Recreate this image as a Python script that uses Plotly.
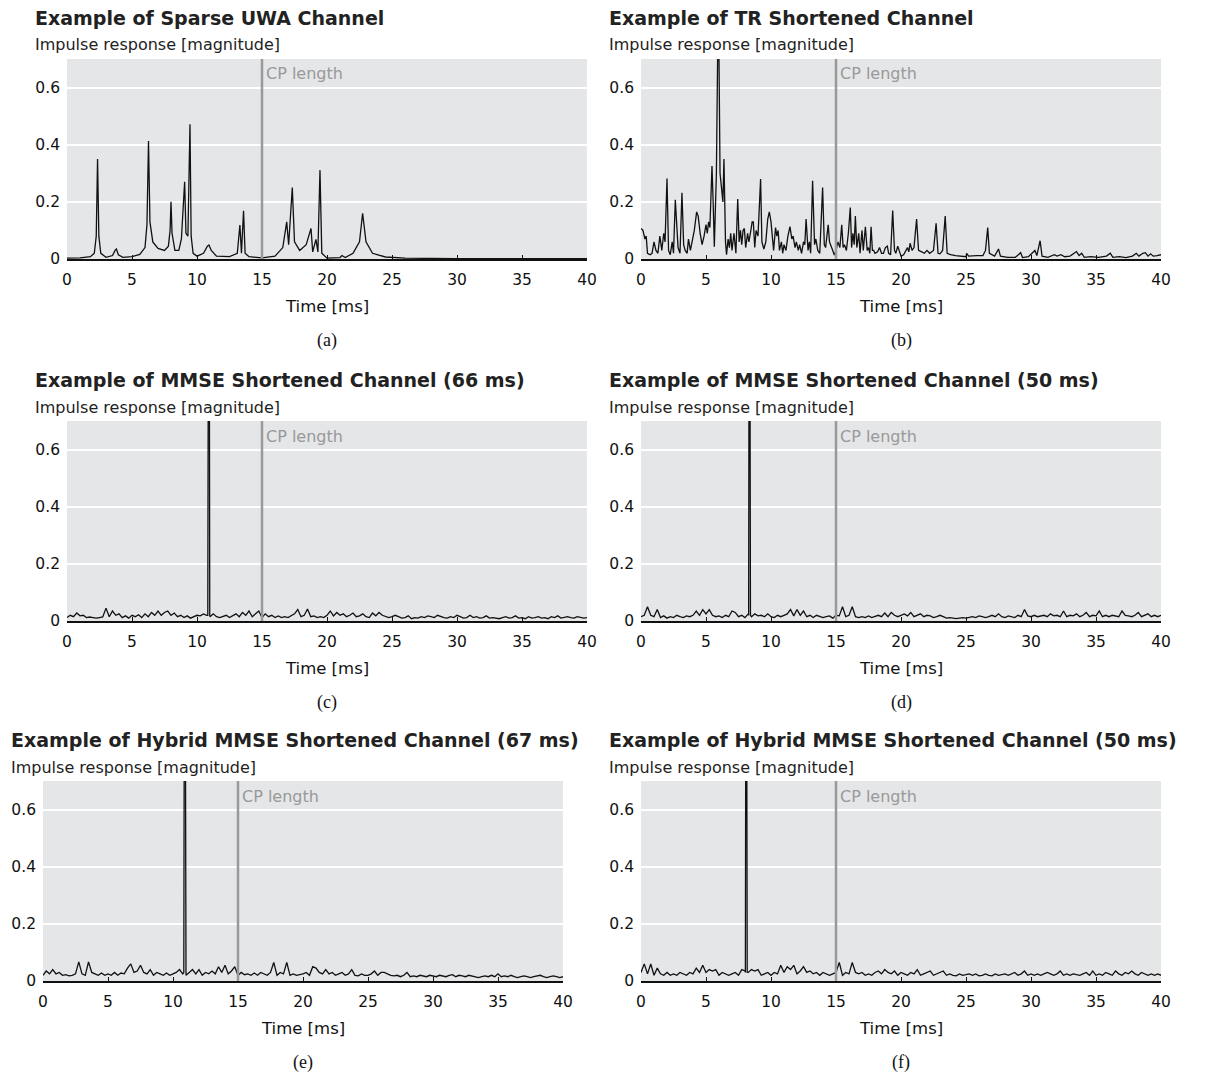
import plotly.graph_objects as go

# page is 1205x1076; the html body adds an 8px margin on every side
OFF = 8
W, H = 1205 - 2 * OFF, 1076 - 2 * OFF + 6

# ---------------- data ----------------
titles = ["Example of Sparse UWA Channel", "Example of TR Shortened Channel",
          "Example of MMSE Shortened Channel (66 ms)", "Example of MMSE Shortened Channel (50 ms)",
          "Example of Hybrid MMSE Shortened Channel (67 ms)", "Example of Hybrid MMSE Shortened Channel (50 ms)"]
captions = ["(a)", "(b)", "(c)", "(d)", "(e)", "(f)"]
x_ticks = [0, 5, 10, 15, 20, 25, 30, 35, 40]
y_ticks = [0, 0.2, 0.4, 0.6]
y_ticktext = ["0", "0.2", "0.4", "0.6"]
cp_length = 15

a_t = [0, 1.0, 1.8, 2.1, 2.25, 2.35, 2.45, 2.6, 3.0, 3.5, 3.7, 3.8, 3.95, 4.3, 5.0, 5.6, 6.0, 6.15, 6.27, 6.38,
       6.6, 7.0, 7.5, 7.8, 7.93, 8.0, 8.08, 8.3, 8.6, 8.8, 9.05, 9.15, 9.3, 9.46, 9.55, 9.7, 10.0, 10.5, 10.8, 10.92,
       11.1, 11.5, 12.5, 13.1, 13.3, 13.42, 13.58, 13.7, 14.0, 15.0, 16.0, 16.6, 16.9, 17.05, 17.33, 17.5, 17.9, 18.4, 18.77, 18.9,
       19.15, 19.3, 19.46, 19.6, 20.0, 21.0, 21.15, 21.4, 22.0, 22.5, 22.74, 23.0, 23.5, 24.5, 26, 30, 40]
a_v = [0.003, 0.004, 0.008, 0.02, 0.08, 0.35, 0.08, 0.02, 0.006, 0.012, 0.03, 0.035, 0.015, 0.006, 0.008, 0.016, 0.04, 0.12, 0.413, 0.13,
       0.06, 0.037, 0.03, 0.045, 0.1, 0.2, 0.09, 0.03, 0.03, 0.07, 0.27, 0.09, 0.08, 0.472, 0.08, 0.02, 0.01, 0.02, 0.045, 0.049,
       0.03, 0.01, 0.008, 0.02, 0.119, 0.02, 0.169, 0.02, 0.008, 0.004, 0.01, 0.04, 0.13, 0.05, 0.25, 0.06, 0.03, 0.05, 0.107, 0.025,
       0.069, 0.025, 0.311, 0.02, 0.003, 0.005, 0.012, 0.005, 0.02, 0.06, 0.16, 0.06, 0.02, 0.007, 0.003, 0.001, 0.001]

b_t = [0.0, 0.15, 0.3, 0.4, 0.5, 0.7, 0.85, 1.0, 1.15, 1.3, 1.45, 1.6, 1.75, 1.85, 2.0, 2.12, 2.25, 2.4, 2.5, 2.64,
       2.75, 2.85, 3.0, 3.15, 3.28, 3.4, 3.55, 3.65, 3.8, 3.95, 4.1, 4.28, 4.4, 4.55, 4.7, 4.85, 5.0, 5.1, 5.2, 5.3,
       5.46, 5.55, 5.64, 5.8, 5.95, 6.08, 6.2, 6.3, 6.38, 6.5, 6.58, 6.7, 6.8, 6.9, 7.0, 7.15, 7.3, 7.44, 7.55, 7.65,
       7.75, 7.85, 7.95, 8.05, 8.2, 8.3, 8.45, 8.55, 8.64, 8.75, 8.85, 9.0, 9.2, 9.3, 9.45, 9.6, 9.75, 9.87, 10.0, 10.1,
       10.2, 10.35, 10.45, 10.55, 10.65, 10.8, 10.9, 11.0, 11.15, 11.3, 11.46, 11.6, 11.7, 11.85, 11.95, 12.1, 12.2, 12.35, 12.5, 12.6,
       12.7, 12.85, 12.95, 13.05, 13.2, 13.35, 13.45, 13.6, 13.75, 13.97, 14.1, 14.2, 14.4, 14.5, 14.6, 14.75, 14.87, 15.0, 15.15, 15.3,
       15.44, 15.55, 15.65, 15.8, 15.95, 16.1, 16.2, 16.3, 16.4, 16.49, 16.6, 16.75, 16.85, 17.0, 17.1, 17.26, 17.4, 17.5, 17.6, 17.7,
       17.8, 17.9, 18.0, 18.2, 18.35, 18.5, 18.65, 18.8, 18.95, 19.05, 19.2, 19.36, 19.5, 19.6, 19.75, 19.9, 20.0, 20.2, 20.35, 20.5,
       20.6, 20.7, 20.85, 21.0, 21.2, 21.35, 21.6, 21.8, 22.0, 22.2, 22.5, 22.7, 22.85, 23.0, 23.2, 23.4, 23.55, 23.8, 24.2, 24.6,
       25.0, 25.05, 25.2, 25.8, 26.3, 26.5, 26.67, 26.8, 27.2, 27.5, 27.65, 28.2, 28.8, 29.2, 29.35, 29.8, 30.1, 30.3, 30.45, 30.7,
       30.85, 31.3, 31.8, 32.0, 32.3, 32.6, 33.0, 33.5, 33.7, 33.9, 34.1, 34.6, 35.2, 35.8, 36.1, 36.3, 36.8, 37.3, 37.8, 38.1,
       38.3, 38.6, 38.8, 39.0, 39.2, 39.4, 39.7, 40.0]
b_v = [0.107, 0.1, 0.07, 0.08, 0.02, 0.015, 0.02, 0.06, 0.03, 0.02, 0.08, 0.03, 0.09, 0.06, 0.282, 0.03, 0.015, 0.06, 0.02, 0.207,
       0.12, 0.04, 0.02, 0.232, 0.05, 0.03, 0.02, 0.07, 0.03, 0.06, 0.1, 0.165, 0.15, 0.09, 0.05, 0.08, 0.12, 0.09, 0.13, 0.11,
       0.325, 0.2, 0.043, 0.3, 0.95, 0.3, 0.25, 0.2, 0.35, 0.06, 0.015, 0.07, 0.04, 0.09, 0.03, 0.09, 0.02, 0.21, 0.06, 0.1,
       0.05, 0.1, 0.107, 0.04, 0.09, 0.06, 0.1, 0.13, 0.13, 0.04, 0.1, 0.08, 0.28, 0.06, 0.035, 0.06, 0.14, 0.165, 0.13, 0.08,
       0.03, 0.11, 0.08, 0.1, 0.03, 0.06, 0.02, 0.05, 0.03, 0.08, 0.113, 0.07, 0.08, 0.04, 0.06, 0.03, 0.05, 0.02, 0.06, 0.05,
       0.14, 0.03, 0.06, 0.02, 0.274, 0.05, 0.07, 0.03, 0.02, 0.25, 0.05, 0.04, 0.12, 0.06, 0.05, 0.03, 0.014, 0.03, 0.06, 0.04,
       0.12, 0.04, 0.05, 0.03, 0.09, 0.18, 0.04, 0.09, 0.05, 0.15, 0.04, 0.09, 0.02, 0.1, 0.03, 0.113, 0.03, 0.04, 0.02, 0.113,
       0.03, 0.03, 0.02, 0.025, 0.04, 0.02, 0.02, 0.04, 0.045, 0.02, 0.015, 0.17, 0.03, 0.02, 0.045, 0.02, 0.01, 0.015, 0.03, 0.04,
       0.025, 0.055, 0.03, 0.04, 0.14, 0.03, 0.025, 0.02, 0.03, 0.02, 0.03, 0.125, 0.02, 0.018, 0.03, 0.15, 0.02, 0.015, 0.012, 0.01,
       0.008, 0.02, 0.01, 0.012, 0.012, 0.03, 0.11, 0.02, 0.01, 0.035, 0.01, 0.006, 0.006, 0.022, 0.005, 0.008, 0.02, 0.03, 0.012, 0.064,
       0.01, 0.006, 0.015, 0.01, 0.015, 0.008, 0.01, 0.026, 0.012, 0.02, 0.006, 0.008, 0.006, 0.01, 0.02, 0.006, 0.008, 0.005, 0.01, 0.02,
       0.01, 0.02, 0.022, 0.01, 0.018, 0.01, 0.012, 0.015]

# noise floors sampled every 0.25 ms from 0 to 40 ms
c_noise = [0.012, 0.02, 0.015, 0.028, 0.018, 0.02, 0.012, 0.014, 0.012, 0.01, 0.012, 0.014, 0.045, 0.015, 0.035, 0.02, 0.025, 0.012, 0.018, 0.01,
           0.02, 0.015, 0.022, 0.012, 0.025, 0.015, 0.03, 0.02, 0.035, 0.02, 0.03, 0.035, 0.02, 0.028, 0.015, 0.02, 0.012, 0.018, 0.01, 0.015,
           0.02, 0.018, 0.025, 0.02, 0.015, 0.025, 0.015, 0.012, 0.015, 0.02, 0.012, 0.018, 0.025, 0.015, 0.03, 0.02, 0.035, 0.015, 0.025, 0.035,
           0.012, 0.025, 0.015, 0.02, 0.012, 0.018, 0.012, 0.015, 0.012, 0.02, 0.025, 0.04, 0.015, 0.02, 0.042, 0.015, 0.018, 0.012, 0.015, 0.012,
           0.02, 0.035, 0.018, 0.03, 0.02, 0.025, 0.015, 0.02, 0.028, 0.015, 0.018, 0.025, 0.015, 0.012, 0.028, 0.018, 0.03, 0.02, 0.015, 0.012,
           0.015, 0.02, 0.015, 0.01, 0.012, 0.018, 0.008, 0.012, 0.01, 0.015, 0.012, 0.018, 0.015, 0.012, 0.02, 0.015, 0.012, 0.01, 0.015, 0.012,
           0.02, 0.015, 0.01, 0.012, 0.02, 0.012, 0.015, 0.01, 0.012, 0.018, 0.01, 0.012, 0.01, 0.008, 0.012, 0.015, 0.01, 0.012, 0.018, 0.01,
           0.012, 0.008, 0.015, 0.01, 0.012, 0.015, 0.01, 0.012, 0.008, 0.015, 0.012, 0.018, 0.01, 0.012, 0.015, 0.012, 0.01, 0.015, 0.012, 0.01,
           0.012]
d_noise = [0.015, 0.02, 0.05, 0.02, 0.015, 0.04, 0.012, 0.018, 0.01, 0.015, 0.012, 0.02, 0.015, 0.012, 0.018, 0.015, 0.02, 0.035, 0.02, 0.04,
           0.025, 0.04, 0.02, 0.015, 0.018, 0.012, 0.02, 0.015, 0.035, 0.03, 0.015, 0.02, 0.012, 0.025, 0.015, 0.025, 0.018, 0.02, 0.015, 0.025,
           0.015, 0.012, 0.02, 0.015, 0.02, 0.025, 0.04, 0.018, 0.04, 0.02, 0.035, 0.015, 0.02, 0.012, 0.02, 0.015, 0.012, 0.015, 0.018, 0.01,
           0.02, 0.018, 0.05, 0.015, 0.02, 0.05, 0.015, 0.012, 0.015, 0.012, 0.018, 0.012, 0.015, 0.02, 0.015, 0.028, 0.015, 0.03, 0.02, 0.015,
           0.02, 0.025, 0.018, 0.03, 0.015, 0.02, 0.025, 0.015, 0.02, 0.018, 0.012, 0.015, 0.02, 0.015, 0.01, 0.012, 0.01, 0.008, 0.01, 0.012,
           0.01, 0.012, 0.015, 0.012, 0.018, 0.015, 0.012, 0.015, 0.02, 0.015, 0.025, 0.015, 0.012, 0.018, 0.015, 0.012, 0.02, 0.015, 0.04, 0.018,
           0.015, 0.02, 0.015, 0.018, 0.02, 0.015, 0.025, 0.018, 0.02, 0.015, 0.035, 0.015, 0.02, 0.018, 0.025, 0.015, 0.02, 0.03, 0.015, 0.02,
           0.018, 0.035, 0.015, 0.02, 0.015, 0.02, 0.018, 0.015, 0.035, 0.02, 0.018, 0.015, 0.02, 0.03, 0.015, 0.02, 0.025, 0.015, 0.02, 0.015,
           0.02]
e_noise = [0.02, 0.035, 0.025, 0.04, 0.025, 0.03, 0.02, 0.022, 0.018, 0.02, 0.025, 0.067, 0.025, 0.02, 0.067, 0.03, 0.025, 0.02, 0.028, 0.02,
           0.025, 0.02, 0.03, 0.02, 0.028, 0.025, 0.045, 0.06, 0.03, 0.035, 0.055, 0.03, 0.025, 0.04, 0.02, 0.03, 0.025, 0.02, 0.028, 0.02,
           0.025, 0.03, 0.04, 0.025, 0.02, 0.03, 0.04, 0.025, 0.04, 0.02, 0.03, 0.025, 0.035, 0.025, 0.05, 0.03, 0.055, 0.025, 0.035, 0.05,
           0.02, 0.03, 0.022, 0.025, 0.02, 0.028, 0.02, 0.03, 0.025, 0.02, 0.03, 0.065, 0.02, 0.03, 0.025, 0.065, 0.02, 0.025, 0.02, 0.022,
           0.025, 0.03, 0.02, 0.05, 0.045, 0.03, 0.025, 0.04, 0.025, 0.03, 0.02, 0.025, 0.03, 0.02, 0.025, 0.04, 0.02, 0.018, 0.025, 0.02,
           0.02, 0.025, 0.035, 0.02, 0.03, 0.03, 0.025, 0.02, 0.018, 0.02, 0.015, 0.02, 0.03, 0.015, 0.018, 0.015, 0.02, 0.018, 0.015, 0.02,
           0.018, 0.015, 0.02, 0.018, 0.015, 0.02, 0.022, 0.015, 0.02, 0.018, 0.015, 0.02, 0.018, 0.015, 0.012, 0.015, 0.018, 0.015, 0.02, 0.015,
           0.025, 0.015, 0.018, 0.015, 0.02, 0.015, 0.012, 0.015, 0.018, 0.015, 0.012, 0.015, 0.018, 0.02, 0.015, 0.012, 0.015, 0.018, 0.015, 0.012,
           0.015]
f_noise = [0.03, 0.06, 0.025, 0.06, 0.02, 0.045, 0.025, 0.02, 0.03, 0.02, 0.025, 0.02, 0.03, 0.025, 0.02, 0.03, 0.025, 0.045, 0.03, 0.055,
           0.03, 0.04, 0.035, 0.04, 0.02, 0.03, 0.025, 0.02, 0.025, 0.03, 0.02, 0.04, 0.035, 0.03, 0.04, 0.035, 0.04, 0.02, 0.025, 0.03,
           0.02, 0.03, 0.025, 0.055, 0.03, 0.05, 0.04, 0.055, 0.025, 0.035, 0.05, 0.03, 0.035, 0.025, 0.03, 0.02, 0.03, 0.025, 0.02, 0.025,
           0.03, 0.065, 0.02, 0.03, 0.025, 0.065, 0.03, 0.025, 0.03, 0.02, 0.025, 0.02, 0.03, 0.035, 0.025, 0.04, 0.03, 0.025, 0.035, 0.02,
           0.03, 0.025, 0.02, 0.03, 0.025, 0.04, 0.02, 0.025, 0.03, 0.035, 0.02, 0.025, 0.03, 0.035, 0.02, 0.025, 0.02, 0.018, 0.025, 0.02,
           0.022, 0.025, 0.02, 0.025, 0.018, 0.02, 0.025, 0.02, 0.018, 0.025, 0.02, 0.022, 0.025, 0.02, 0.025, 0.03, 0.02, 0.025, 0.035, 0.02,
           0.025, 0.02, 0.025, 0.02, 0.025, 0.03, 0.025, 0.02, 0.025, 0.035, 0.02, 0.025, 0.02, 0.025, 0.022, 0.02, 0.025, 0.03, 0.02, 0.035,
           0.02, 0.025, 0.02, 0.03, 0.025, 0.02, 0.035, 0.025, 0.02, 0.03, 0.025, 0.035, 0.025, 0.02, 0.03, 0.025, 0.02, 0.025, 0.02, 0.025,
           0.02]

# main (clipped) taps of the shortened channels
c_spike_t = [10.83, 10.87, 10.95, 10.98]
c_spike_v = [0.02, 1.0, 1.0, 0.02]
d_spike_t = [8.28, 8.31, 8.38, 8.42]
d_spike_v = [0.02, 1.0, 1.0, 0.02]
e_spike_t = [10.83, 10.87, 10.95, 10.98]
e_spike_v = [0.03, 1.0, 1.0, 0.03]
f_spike_t = [8.03, 8.06, 8.13, 8.17]
f_spike_v = [0.03, 1.0, 1.0, 0.03]


def merge(noise, st, sv):
    n = len(noise)
    pts = [(40.0 * i / (n - 1), v) for i, v in enumerate(noise)] + list(zip(st, sv))
    pts.sort(key=lambda p: p[0])
    return [p[0] for p in pts], [p[1] for p in pts]


series = [(a_t, a_v), (b_t, b_v),
          merge(c_noise, c_spike_t, c_spike_v), merge(d_noise, d_spike_t, d_spike_v),
          merge(e_noise, e_spike_t, e_spike_v), merge(f_noise, f_spike_t, f_spike_v)]

# ---------------- layout geometry (page pixels) ----------------
# (plot left, plot right, plot top, plot bottom, title left)
boxes = [(67, 587, 59, 259, 33), (641, 1161, 59, 259, 607),
         (67, 587, 421, 621, 33), (641, 1161, 421, 621, 607),
         (43, 563, 781, 981, 9), (641, 1161, 781, 981, 607)]


def px(x):
    return (x - OFF) / W


def py(y):
    return 1 - (y - OFF) / H


FONT = "DejaVu Sans"
fig = go.Figure()
annotations = []
shapes = []
layout = {}

for i, ((t, v), (x0, x1, y0, y1, tl)) in enumerate(zip(series, boxes)):
    k = "" if i == 0 else str(i + 1)
    fig.add_trace(go.Scatter(x=t, y=v, mode="lines", xaxis="x" + k, yaxis="y" + k,
                             line=dict(color="#111111", width=1.3), showlegend=False,
                             hoverinfo="skip"))
    layout["xaxis" + k] = dict(domain=[px(x0), px(x1)], anchor="y" + k, range=[0, 40],
                               tickvals=x_ticks, ticks="inside", ticklen=4, tickcolor="#111",
                               tickwidth=1, showline=True, linecolor="#111", linewidth=1.5,
                               showgrid=False, zeroline=False, ticklabelstandoff=6, automargin=False,
                               tickfont=dict(family=FONT, size=15.5, color="#111"), fixedrange=True)
    layout["yaxis" + k] = dict(domain=[py(y1), py(y0)], anchor="x" + k, range=[0, 0.7],
                               tickvals=y_ticks, ticktext=y_ticktext, showgrid=True,
                               gridcolor="white", gridwidth=1.5, zeroline=False, showline=False,
                               ticks="", ticklabelstandoff=6, automargin=False,
                               tickfont=dict(family=FONT, size=15.5, color="#111"), fixedrange=True)
    shapes.append(dict(type="line", xref="x" + k, yref="y" + k + " domain", x0=cp_length, x1=cp_length,
                       y0=0, y1=1, line=dict(color="#999999", width=2.5), layer="above"))
    annotations.append(dict(xref="x" + k, yref="paper", x=cp_length, y=py(y0 + 15),
                            text="CP length", showarrow=False, xanchor="left", yanchor="middle",
                            xshift=2, font=dict(family=FONT, size=16, color="#999999")))
    annotations.append(dict(xref="paper", yref="paper", x=px(tl), y=py(y0 - 41),
                            text="<b>" + titles[i] + "</b>", showarrow=False, xanchor="left",
                            yanchor="middle", font=dict(family=FONT, size=19, color="#222")))
    annotations.append(dict(xref="paper", yref="paper", x=px(tl), y=py(y0 - 14),
                            text="Impulse response [magnitude]", showarrow=False, xanchor="left",
                            yanchor="middle", font=dict(family=FONT, size=16, color="#222")))
    cx = px((x0 + x1) / 2)
    annotations.append(dict(xref="paper", yref="paper", x=cx, y=py(y1 + 47),
                            text="Time [ms]", showarrow=False, xanchor="center",
                            yanchor="middle", font=dict(family=FONT, size=16.5, color="#111")))
    annotations.append(dict(xref="paper", yref="paper", x=cx, y=py(y1 + 81),
                            text=captions[i], showarrow=False, xanchor="center",
                            yanchor="middle", font=dict(family="Liberation Serif", size=18, color="#111")))

fig.update_layout(width=W, height=H, margin=dict(l=0, r=0, t=0, b=0, autoexpand=False),
                  paper_bgcolor="white", plot_bgcolor="#e5e6e8",
                  annotations=annotations, shapes=shapes, **layout)

fig.write_html("out.html")
